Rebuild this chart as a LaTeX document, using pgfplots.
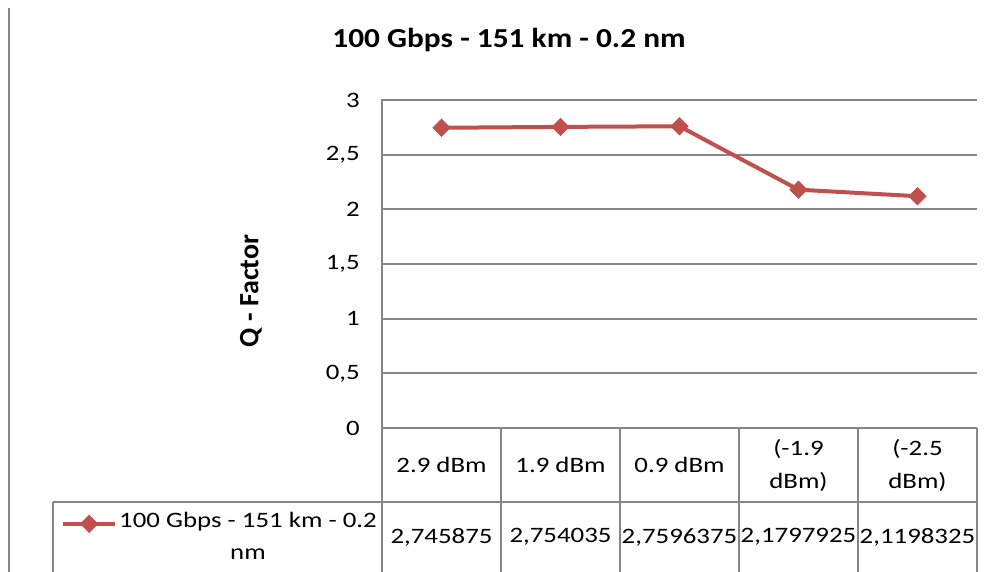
\documentclass[border=0pt]{standalone}
\usepackage{fontspec}
\setmainfont{Carlito}
\usepackage{pgfplots}
\pgfplotsset{compat=1.18}
\definecolor{ser}{RGB}{192,80,77}
\definecolor{grd}{RGB}{134,134,134}
\newcommand{\tf}{\fontsize{22}{33}\selectfont}
\begin{document}
\begin{tikzpicture}[x=1pt,y=1pt]
\useasboundingbox (-382,-144) rectangle (611,428);
\begin{axis}[
  at={(0pt,0pt)}, anchor=south west,
  scale only axis, width=595pt, height=328pt,
  xmin=0.5, xmax=5.5, ymin=0, ymax=3,
  clip=false,
  axis line style={draw=none},
  xtick={1,2,3,4,5},
  xticklabels={2.9 dBm,1.9 dBm,0.9 dBm,{(-1.9\\dBm)},{(-2.5\\dBm)}},
  xticklabel style={align=center, anchor=center, yshift=-37pt, font=\tf, xscale=1.22},
  ytick={0,0.5,1,1.5,2,2.5,3},
  yticklabel style={font=\tf, xshift=-18pt, xscale=1.22},
  /pgf/number format/.cd, use comma, 1000 sep={}, assume math mode=true,
  /pgfplots/.cd,
  major tick length=0pt,
  ymajorgrids, grid style={grd, line width=2pt},
  legend style={at={(-0.5395,-0.226)}, anchor=north west, draw=none, fill=none,
    inner sep=0pt, font=\tf, cells={align=center},
    legend image code/.code={\draw[mark repeat=2,mark phase=2] plot coordinates {(0pt,0pt) (26pt,0pt) (52pt,0pt)};}},
]
\addplot[ser, line width=4pt, mark=square*, mark size=6.2pt, mark options={rotate=45, fill=ser, draw=ser, line width=0.5pt}]
  coordinates {(1,2.745875) (2,2.754035) (3,2.7596375) (4,2.1797925) (5,2.1198325)};
\addlegendentry{\scalebox{1.22}[1]{\begin{tabular}{@{}c@{}}100 Gbps - 151 km - 0.2\\[-1pt]nm\end{tabular}}}
\end{axis}
% table lines
\draw[grd, line width=2pt] (-329,-74) -- (595,-74);
\draw[grd, line width=2pt] (-329,-74) -- (-329,-144);
\draw[grd, line width=2pt] (0,329) -- (0,-144);
\foreach \x in {119,238,357,476,595} \draw[grd, line width=2pt] (\x,0) -- (\x,-144);
\draw[grd, line width=2pt] (-373,420) -- (-373,-144);
% values row
\foreach \x/\v in {59.5/{2,745875},178.5/{2,754035},297.5/{2,7596375},416.5/{2,1797925},535.5/{2,1198325}}
  \node[font=\tf, xscale=1.22, anchor=center] at (\x,-109) {\v};
% title and y label
\node[font=\bfseries\fontsize{27.5}{32}\selectfont, xscale=1.14, anchor=base] at (127,380) {100 Gbps - 151 km - 0.2 nm};
\node[font=\bfseries\fontsize{28}{32}\selectfont, rotate=90, anchor=center] at (-131,137) {Q - Factor};
\end{tikzpicture}
\end{document}
